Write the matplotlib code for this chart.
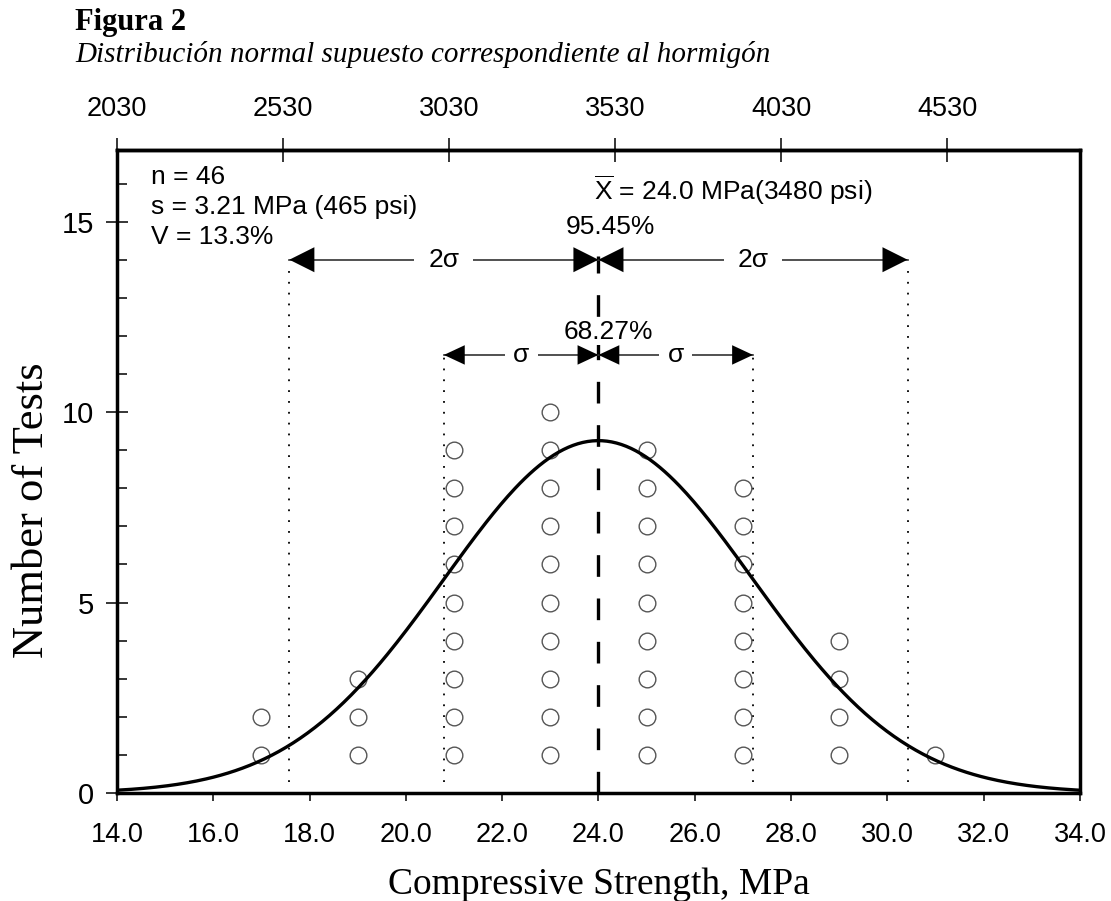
import numpy as np
import matplotlib
matplotlib.use("Agg")
import matplotlib.pyplot as plt

# data
strength_mpa = [17, 19, 21, 23, 25, 27, 29, 31]
test_counts = [2, 3, 9, 10, 9, 8, 4, 1]
mean_mpa = 24.0
sd_mpa = 3.21
curve_peak = 9.25
psi_ticks = [2030, 2530, 3030, 3530, 4030, 4530]
x_ticks = [14, 16, 18, 20, 22, 24, 26, 28, 30, 32, 34]
y_ticks = [0, 5, 10, 15]
stats_lines = ["n = 46", "s = 3.21 MPa (465 psi)", "V = 13.3%"]
mean_label = r"$\overline{\mathrm{X}}$ = 24.0 MPa(3480 psi)"
pct_1s = "68.27%"
pct_2s = "95.45%"
PSI_PER_MPA = 145.0

matplotlib.rcParams["font.family"] = "Liberation Sans"
matplotlib.rcParams["mathtext.fontset"] = "custom"
matplotlib.rcParams["mathtext.rm"] = "Liberation Sans"

fig = plt.figure(figsize=(11.11, 9.01), dpi=100)
ax = fig.add_axes([0.1053, 0.1199, 0.972 - 0.1053, 0.8335 - 0.1199])

# normal curve from the stated mean / sd
xc = np.linspace(14, 34, 400)
yc = curve_peak * np.exp(-0.5 * ((xc - mean_mpa) / sd_mpa) ** 2)
ax.plot(xc, yc, color="black", lw=2.4, zorder=4)

# stacked circles, one per test
for x, n in zip(strength_mpa, test_counts):
    ys = np.arange(1, n + 1)
    ax.plot([x] * n, ys, ls="none", marker="o", ms=12, mfc="none",
            mec="#555555", mew=1.0, zorder=3)

# sigma guide lines
for k, top in [(1, 11.6), (2, 13.8)]:
    for sgn in (-1, 1):
        ax.plot([mean_mpa + sgn * k * sd_mpa] * 2, [0.3, top], color="black",
                lw=1.3, ls=(0, (1, 5)), zorder=2)

ax.plot([mean_mpa, mean_mpa], [0, 14.1], color="black", lw=2.4,
        ls=(0, (6.5, 6.5)), zorder=2)


def span_arrow(x0, x1, y, label, head, pad):
    ax.plot([x0, x1], [y, y], color="#333333", lw=1.2, zorder=2)
    mid = 0.5 * (x0 + x1)
    for tip in (x0, x1):
        ax.annotate("", xy=(tip, y), xytext=(mid, y),
                    arrowprops=dict(arrowstyle="-|>,head_length=%.2f,head_width=%.2f" % head,
                                    color="black", lw=0.01, shrinkA=0, shrinkB=0,
                                    mutation_scale=20), zorder=3)
    ax.text(mid, y, label, ha="center", va="center", fontsize=19, zorder=5,
            bbox=dict(fc="white", ec="none", pad=pad))


span_arrow(mean_mpa - 2 * sd_mpa, mean_mpa, 14.0, "2σ", (0.9, 0.45), 10)
span_arrow(mean_mpa, mean_mpa + 2 * sd_mpa, 14.0, "2σ", (0.9, 0.45), 10)
span_arrow(mean_mpa - sd_mpa, mean_mpa, 11.5, "σ", (0.75, 0.35), 6)
span_arrow(mean_mpa, mean_mpa + sd_mpa, 11.5, "σ", (0.75, 0.35), 6)

ax.text(24.25, 14.86, pct_2s, ha="center", va="center", fontsize=19, zorder=5)
ax.text(24.2, 12.1, pct_1s, ha="center", va="center", fontsize=19, zorder=5,
        bbox=dict(fc="white", ec="none", pad=0.5))
ax.text(23.9, 15.83, mean_label, ha="left", va="center", fontsize=19)
for i, line in enumerate(stats_lines):
    ax.text(14.71, 16.17 - 0.79 * i, line, ha="left", va="center", fontsize=19)

ax.set_xlim(14, 34)
ax.set_ylim(0, 16.88)
ax.set_xticks(x_ticks)
ax.set_xticklabels(["%.1f" % v for v in x_ticks])
ax.set_yticks(y_ticks)
ax.set_yticks(range(0, 17), minor=True)
ax.tick_params(axis="x", direction="out", length=6, width=1.1, labelsize=19.5, pad=15)
ax.tick_params(axis="y", which="major", direction="inout", length=16, width=1.1,
               labelsize=21, pad=8.5)
ax.tick_params(axis="y", which="minor", direction="in", length=7, width=1.1)
for sp in ax.spines.values():
    sp.set_linewidth(2.5)

top = ax.secondary_xaxis("top", functions=(lambda m: m * PSI_PER_MPA,
                                           lambda p: p / PSI_PER_MPA))
top.set_xticks(psi_ticks)
top.set_xticklabels([str(v) for v in psi_ticks])
top.tick_params(direction="inout", length=17, width=1.1, labelsize=19.5, pad=12)
top.spines["top"].set_linewidth(2.5)

ax.set_xlabel("Compressive Strength, MPa", family="Liberation Serif", fontsize=27,
              labelpad=14)
ax.set_ylabel("Number of Tests", family="Liberation Serif", fontsize=32)
ax.yaxis.set_label_coords(-0.068, 0.44)

fig.text(0.0675, 0.975, "Figura 2", family="Liberation Serif", weight="bold",
         fontsize=22, va="center", ha="left")
fig.text(0.0675, 0.94, "Distribución normal supuesto correspondiente al hormigón",
         family="Liberation Serif", style="italic", fontsize=21, va="center", ha="left")

fig.savefig("out.png", dpi=100)
